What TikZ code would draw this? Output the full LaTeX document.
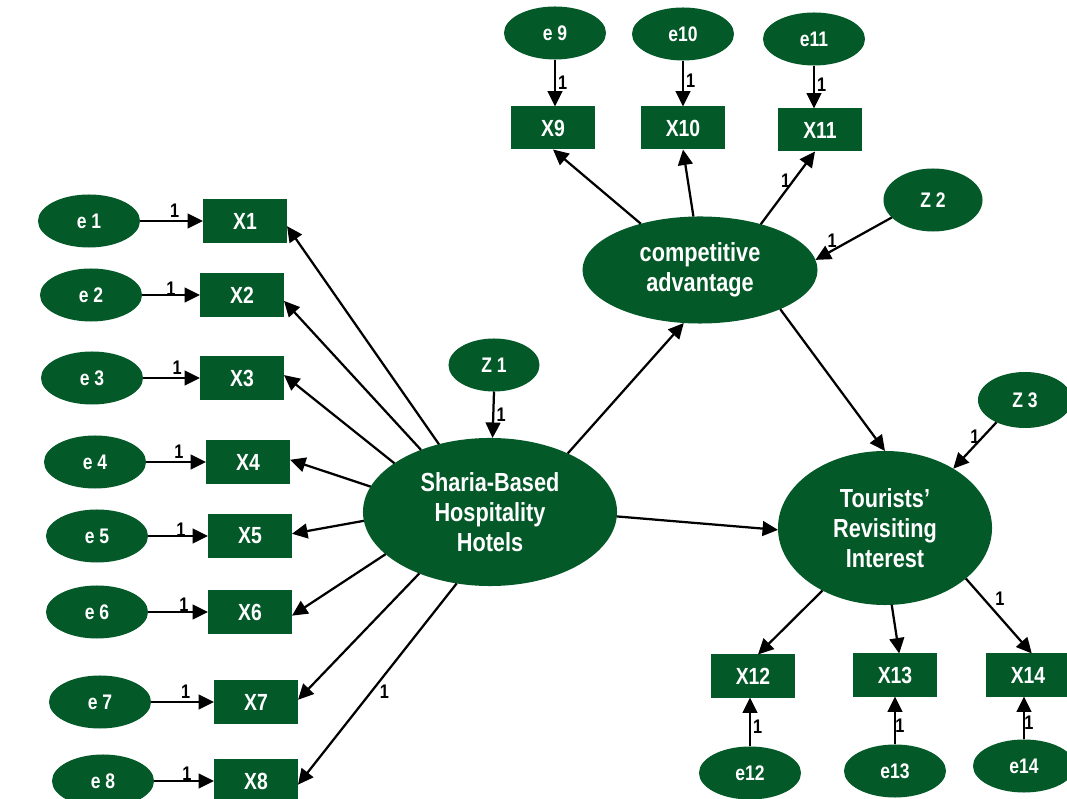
\documentclass[tikz,border=0pt]{standalone}
\usepackage{fontspec}
\setmainfont[FakeStretch=0.83]{Liberation Sans}
\usetikzlibrary{shapes.geometric,arrows.meta}
\definecolor{dkgreen}{RGB}{4,89,41}
\tikzset{
  base/.style={fill=dkgreen, text=white, inner sep=0pt, outer sep=0pt, align=center},
  errnode/.style={base, ellipse, minimum width=2.55cm, minimum height=1.325cm, font=\bfseries\fontsize{15}{17}\selectfont},
  obs/.style={base, rectangle, minimum width=2.1cm, minimum height=1.075cm, font=\bfseries\fontsize{16.6}{19}\selectfont},
  latent/.style={base, ellipse, font=\bfseries\fontsize{18.6}{21.3}\selectfont},
  arr/.style={-{Triangle[length=11pt,width=10.5pt]}, line width=1.6pt, black},
  one/.style={font=\bfseries\fontsize{14}{15}\selectfont, inner sep=1.5pt, text=black}
}
\begin{document}
\begin{tikzpicture}[x=0.025cm,y=-0.025cm]
\useasboundingbox (0,0) rectangle (1067,799);
% latent variables
\node[latent, minimum width=6.35cm, minimum height=3.7cm] (sh) at (490,512) {Sharia-Based\\Hospitality\\Hotels};
\node[latent, minimum width=5.875cm, minimum height=2.675cm] (ca) at (700,270) {competitive\\advantage};
\node[latent, minimum width=5.35cm, minimum height=3.85cm] (tr) at (885,528) {Tourists'\\Revisiting\\Interest};
% disturbances
\node[errnode, minimum width=2.275cm] (z1) at (494,365) {Z 1};
\node[errnode, minimum width=2.475cm, minimum height=1.575cm] (z2) at (933,200) {Z 2};
\node[errnode, minimum width=2.35cm, minimum height=1.4cm] (z3) at (1025,400) {Z 3};
% left indicators
\node[obs] (x1) at (245,221) {X1};
\node[obs] (x2) at (242,295) {X2};
\node[obs] (x3) at (242,378) {X3};
\node[obs] (x4) at (248,462) {X4};
\node[obs] (x5) at (250,536) {X5};
\node[obs] (x6) at (250,612) {X6};
\node[obs] (x7) at (256,702) {X7};
\node[obs] (x8) at (256,781) {X8};
\node[errnode] (e1) at (89,221) {e 1};
\node[errnode] (e2) at (91,295) {e 2};
\node[errnode] (e3) at (92,378) {e 3};
\node[errnode] (e4) at (95,462) {e 4};
\node[errnode] (e5) at (97,536) {e 5};
\node[errnode] (e6) at (97,612) {e 6};
\node[errnode] (e7) at (100,702) {e 7};
\node[errnode] (e8) at (103,781) {e 8};
% top indicators
\node[obs] (x9) at (553,128) {X9};
\node[obs] (x10) at (683,128) {X10};
\node[obs] (x11) at (820,130) {X11};
\node[errnode] (e9) at (555,33) {e 9};
\node[errnode] (e10) at (683,34) {e10};
\node[errnode] (e11) at (814,39) {e11};
% bottom indicators
\node[obs] (x12) at (753,676) {X12};
\node[obs] (x13) at (895,675) {X13};
\node[obs] (x14) at (1028,675) {X14};
\node[errnode] (e12) at (750,773) {e12};
\node[errnode] (e13) at (895,771) {e13};
\node[errnode] (e14) at (1024,766) {e14};
% error arrows left
\draw[arr] (e1) -- node[one, above, pos=0.55] {1} (x1);
\draw[arr] (e2) -- node[one, above, pos=0.5, yshift=-3pt] {1} (x2);
\draw[arr] (e3) -- node[one, above, pos=0.6] {1} (x3);
\draw[arr] (e4) -- node[one, above, pos=0.55] {1} (x4);
\draw[arr] (e5) -- node[one, above, pos=0.55, yshift=-3pt] {1} (x5);
\draw[arr] (e6) -- node[one, above, pos=0.6, yshift=-2pt] {1} (x6);
\draw[arr] (e7) -- node[one, above, pos=0.55] {1} (x7);
\draw[arr] (e8) -- node[one, above, pos=0.55, yshift=-2pt] {1} (x8);
% error arrows top
\draw[arr] (e9.south) -- node[one, right, pos=0.5] {1} (e9 |- x9.north);
\draw[arr] (e10.south) -- node[one, right, pos=0.45] {1} (e10 |- x10.north);
\draw[arr] (e11.south) -- node[one, right, pos=0.45] {1} (e11 |- x11.north);
% error arrows bottom
\draw[arr] (e12.north) -- node[one, right, pos=0.4] {1} (e12 |- x12.south);
\draw[arr] (e13.north) -- node[one, right, pos=0.4, xshift=-2pt] {1} (e13 |- x13.south);
\draw[arr] (e14.north) -- node[one, right, pos=0.4, xshift=-2pt] {1} (e14 |- x14.south);
% loadings of Sharia-Based Hospitality Hotels
\draw[arr] (sh.127.5) -- (x1.-7);
\draw[arr] (sh.138.6) -- (x2.-8);
\draw[arr] (sh.153.4) -- (x3.4);
\draw[arr] (sh.168.6) -- (x4.3);
\draw[arr] (sh.184.5) -- (x5.3);
\draw[arr] (sh.202.3) -- (x6.-5);
\draw[arr] (sh.221.4) -- (x7.3);
\draw[arr] (sh.245.2) -- node[one, right, pos=0.54, xshift=4pt] {1} (x8.-5);
% loadings of competitive advantage
\draw[arr] (ca.142.5) -- (x9.south);
\draw[arr] (ca.97.5) -- (x10.south);
\draw[arr] (ca.37.1) -- node[one, left, pos=0.6] {1} (x11.-103);
% loadings of Tourists' Revisiting Interest
\draw[arr] (tr.225) -- (x12.77);
\draw[arr] (tr.275) -- (x13.79);
\draw[arr] (tr.-32.6) -- node[one, above right, pos=0.4] {1} (x14.80.5);
% structural paths
\draw[arr] (sh.37.6) -- (ca.253);
\draw[arr] (sh.-2.2) -- (tr.181);
\draw[arr] (ca.-26.6) -- (tr.north);
% disturbances
\draw[arr] (z1.south) -- node[one, right, pos=0.5] {1} (sh.88);
\draw[arr] (z2.203) -- node[one, above, pos=0.78] {1} (ca.5.6);
\draw[arr] (z3.218) -- node[one, left, pos=0.32] {1} (tr.41.4);
\end{tikzpicture}
\end{document}
